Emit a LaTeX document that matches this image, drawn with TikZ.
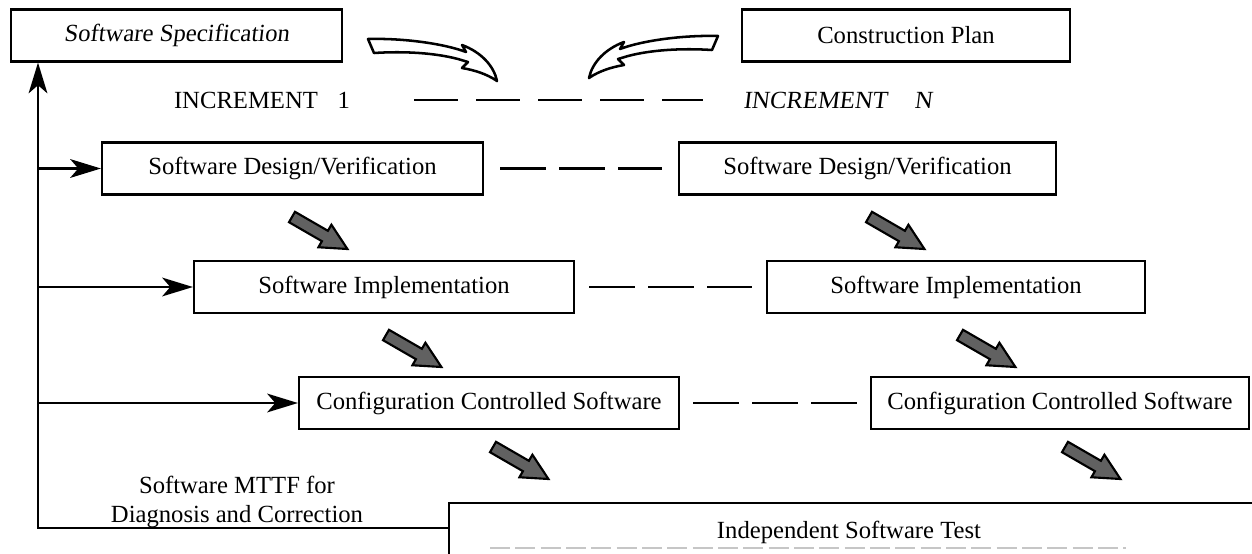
\documentclass[tikz,border=0pt]{standalone}
\usepackage{fontspec}
\setmainfont{Liberation Serif}
\newfontfamily\slantserif{Liberation Serif}[FakeSlant=0.12]
\usetikzlibrary{arrows.meta}
\newcommand\hollowarrowpath{(368,39) .. controls (405,38) and (445,44) .. (466,52)
     -- (462,45) .. controls (481,52) and (494,66) .. (497,81)
     .. controls (487,74) and (474,70) .. (462,68) -- (468,62) -- (458,59)
     .. controls (435,53) and (405,51) .. (374,53) -- cycle}
\tikzset{
  txt/.style={font=\fontsize{18.5}{21.75}\selectfont, inner sep=0pt},
  slanttxt/.style={font={\slantserif\fontsize{18.5}{21.75}\selectfont}, inner sep=0pt},
  box/.style={draw, line width=1.6pt, minimum height=52*0.75pt, inner sep=0pt},
  bw/.style={minimum width=#1*0.75pt},
  feed/.style={line width=2.1pt, -{Stealth[length=23pt,width=14pt,inset=6pt]}},
  dashzero/.style={line width=2.1pt, dash pattern=on 33pt off 13.5pt},
  dashrow/.style={line width=2.1pt, dash pattern=on 34.5pt off 9.75pt},
  hollow/.style={line width=1.9pt, fill=white, line join=round},
  blk/.pic={\draw[line width=1.6pt, fill=black!62, line join=miter]
     (0,-6) -- (38,-6) -- (38,-13) -- (64,0) -- (38,13) -- (38,6) -- (0,6) -- cycle;}
}
\begin{document}
\begin{tikzpicture}[x=0.75pt,y=-0.75pt]
\useasboundingbox (0,0) rectangle (1252,553);

% top boxes
\node[box,bw=331,slanttxt] (spec) at (176.5,35.5) {Software Specification};
\node[box,bw=328,txt] (plan) at (906,35.5) {Construction Plan};

% hollow arrows
\draw[hollow] \hollowarrowpath;
\begin{scope}[shift={(1086,-3)}, xscale=-1]
  \draw[hollow] \hollowarrowpath;
\end{scope}

% increment labels
\node[txt] (inc1) at (262,100) {INCREMENT\hspace{0.8em}1};
\node[slanttxt, anchor=west] (incN) at (743,100) {INCREMENT\hspace{1.1em}N};
\coordinate (r0a) at (414,100);
\coordinate (r0b) at (703,100);
\draw[dashzero] (r0a) -- (r0b);

% row 1
\node[box,bw=381,txt] (d1L) at (292.5,168.5) {Software Design/Verification};
\node[box,bw=377,txt] (d1R) at (867.5,168.5) {Software Design/Verification};
\draw[dashrow, shorten <=12pt, shorten >=12pt] (d1L.east) -- (d1R.west);

% row 2
\node[box,bw=380,txt] (i2L) at (384,287) {Software Implementation};
\node[box,bw=378,txt] (i2R) at (956,287) {Software Implementation};
\draw[dashrow, shorten <=10.5pt, shorten >=10.5pt] (i2L.east) -- (i2R.west);

% row 3
\node[box,bw=380,txt] (c3L) at (489,403) {Configuration Controlled Software};
\node[box,bw=378,txt] (c3R) at (1060,403) {Configuration Controlled Software};
\draw[dashrow, shorten <=10pt, shorten >=10pt] (c3L.east) -- (c3R.west);

% shaded arrows
\pic[rotate=-30] at (292,217) {blk};
\pic[rotate=-30] at (869,217) {blk};
\pic[rotate=-30] at (386,335) {blk};
\pic[rotate=-30] at (960,335) {blk};
\pic[rotate=-30] at (493,447) {blk};
\pic[rotate=-30] at (1065,447) {blk};

% bottom box
\node[txt] (test) at (849,532) {Independent Software Test};
\coordinate (tTL) at (449,503);
\coordinate (tTR) at (1256,503);
\coordinate (tBL) at (449,556);
\draw[line width=1.6pt] (tBL) -- (tTL) -- (tTR);
\coordinate (tb1) at (490,548);
\coordinate (tb2) at (1126,548);
\draw[gray!45, line width=1pt, dash pattern=on 15pt off 4pt] (tb1) -- (tb2);

% feedback
\node[txt, align=center] (mttf) at (237,502) {Software MTTF for\\Diagnosis and Correction};
\coordinate (fb) at (449,528);
\coordinate (trunk) at (38,528);
\draw[feed] (fb) -- (trunk) -- (trunk |- spec.south);
\draw[feed] (trunk |- d1L.west) -- (d1L.west);
\draw[feed] (trunk |- i2L.west) -- (i2L.west);
\draw[feed] (trunk |- c3L.west) -- (c3L.west);
\end{tikzpicture}
\end{document}
